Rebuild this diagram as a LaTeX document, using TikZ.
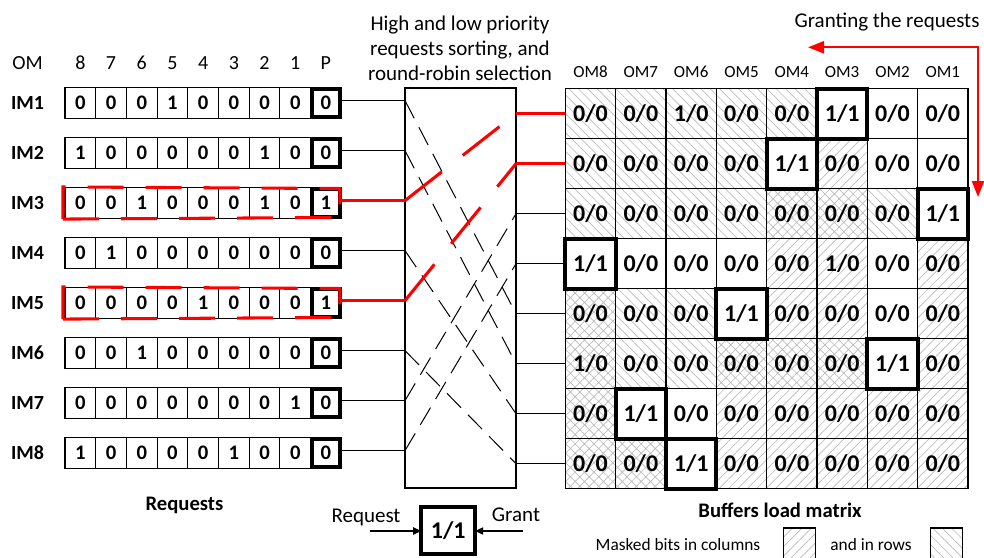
\documentclass[tikz,border=0pt]{standalone}
\usepackage{fontspec}
\setmainfont{Carlito}
\usetikzlibrary{arrows.meta,patterns.meta,calc}
\definecolor{hred}{RGB}{255,0,0}
\definecolor{hatchgray}{RGB}{185,185,185}
\tikzset{
  base/.style={inner sep=0pt, outer sep=0pt},
  imlab/.style={base, font=\fontsize{15}{17}\selectfont\bfseries},
  headtxt/.style={base, font=\fontsize{15}{18}\selectfont},
  omhead/.style={base, font=\fontsize{12.75}{15}\selectfont},
  reqcell/.style={base, draw, line width=0.8pt, minimum width=23.03pt, minimum height=22.9pt, font=\fontsize{15.5}{18}\selectfont\bfseries},
  pcell/.style={reqcell, line width=2.8pt, minimum width=21pt, minimum height=20.5pt},
  mcell/.style={base, draw, line width=0.9pt, minimum width=37.75pt, minimum height=37.5pt, font=\fontsize{18}{21}\selectfont\bfseries},
  hatchN/.style={pattern={Lines[angle=-45,distance=5pt,line width=0.5pt]}, pattern color=hatchgray},
  hatchE/.style={pattern={Lines[angle=45,distance=5pt,line width=0.5pt]}, pattern color=hatchgray},
  hatchX/.style={pattern={Hatch[angle=45,distance=5pt,line width=0.5pt]}, pattern color=hatchgray},
  hatchO/.style={},
  hatchG/.style={},
  grantbox/.style={draw, line width=3.2pt},
  conn/.style={draw, line width=0.8pt},
  redconn/.style={draw=hred, line width=2.3pt},
  bdash/.style={draw, line width=0.75pt, dash pattern=on 15pt off 7.5pt},
  rdash/.style={draw=hred, line width=2.3pt, dash pattern=on 35pt off 20pt},
  redbox/.style={draw=hred, line width=2.3pt, dash pattern=on 27pt off 16.5pt},
  bigtxt/.style={base, font=\fontsize{15.75}{18.75}\selectfont},
  boldlab/.style={base, font=\fontsize{15.5}{18}\selectfont\bfseries},
  legtxt/.style={base, font=\fontsize{13}{15}\selectfont},
  legbox/.style={base, draw, line width=0.8pt, minimum width=23.8pt, minimum height=24pt},
  gbox/.style={base, draw, line width=3pt, minimum width=40.5pt, minimum height=35pt, font=\fontsize{18}{21}\selectfont\bfseries},
  redarrow/.style={draw=hred, line width=1.6pt},
  smallarrow/.style={draw, line width=0.8pt, -{Triangle[length=6pt,width=5.5pt]}},
}
\newcommand{\reqrow}[3]{%
  \node[imlab] (im-#1) at (27.5,{103+50*(#1-1)}) {IM#1};
  \foreach \bb [count=\jj] in {#2}{\node[reqcell] (c-#1-\jj) at ({80.35+30.7*(\jj-1)},{103+50*(#1-1)}) {\bb};}
  \node[pcell] (p-#1) at (325.85,{103+50*(#1-1)}) {#3};
}
\newcommand{\mrow}[2]{%
  \foreach \na/\nb/\hh [count=\jj] in {#2}{\node[mcell,hatch\hh] (m-#1-\jj) at ({590.5+50.33*(\jj-1)},{113.7+50*(#1-1)}) {\na/\nb};}
}
\begin{document}
\begin{tikzpicture}[x=0.75pt,y=-0.75pt]
\useasboundingbox (0,0) rectangle (984,557);

% ---------- Requests ----------
\node[headtxt] (omlab) at (27.5,62.7) {OM};
\foreach \n [count=\jj] in {8,7,6,5,4,3,2,1}{\node[headtxt] (hn-\jj) at ({80.35+30.7*(\jj-1)},62.7) {\n};}
\node[headtxt] (hp) at (325.85,62.7) {P};

\reqrow{1}{0,0,0,1,0,0,0,0}{0}
\reqrow{2}{1,0,0,0,0,0,1,0}{0}
\reqrow{3}{0,0,1,0,0,0,1,0}{1}
\reqrow{4}{0,1,0,0,0,0,0,0}{0}
\reqrow{5}{0,0,0,0,1,0,0,0}{1}
\reqrow{6}{0,0,1,0,0,0,0,0}{0}
\reqrow{7}{0,0,0,0,0,0,0,1}{0}
\reqrow{8}{1,0,0,0,0,1,0,0}{0}

\node[boldlab] (reqtitle) at (184.5,505) {Requests};

% red dashed frames round IM3 and IM5
\foreach \r in {3,5}{
  \draw[redbox] ([xshift=-1.5pt,yshift=-0.6pt]c-\r-1.south west) -- ([yshift=-0.6pt]p-\r.south east) -- ([yshift=0.6pt]p-\r.north east) -- ([xshift=-1.5pt,yshift=0.6pt]c-\r-1.north west) -- cycle;
}

% ---------- Crossbar ----------
\node[bigtxt, align=center] (title) at (460,48) {High and low priority\\requests sorting, and\\round-robin selection};
\node[base, draw, line width=0.8pt, minimum width=83.25pt, minimum height=300pt] (xbar) at (460.5,288) {};

% ---------- Matrix ----------
\foreach \jj [evaluate=\jj as \nn using int(9-\jj)] in {1,...,8}{\node[omhead] (omh-\jj) at ({590.5+50.33*(\jj-1)},71.7) {OM\nn};}

\mrow{1}{0/0/N,0/0/N,1/0/N,0/0/N,0/0/N,1/1/G,0/0/O,0/0/O}
\mrow{2}{0/0/N,0/0/N,0/0/N,0/0/N,1/1/G,0/0/E,0/0/O,0/0/O}
\mrow{3}{0/0/N,0/0/N,0/0/N,0/0/N,0/0/X,0/0/X,0/0/N,1/1/G}
\mrow{4}{1/1/G,0/0/O,0/0/O,0/0/O,0/0/E,1/0/E,0/0/O,0/0/E}
\mrow{5}{0/0/X,0/0/N,0/0/N,1/1/G,0/0/E,0/0/E,0/0/O,0/0/E}
\mrow{6}{1/0/X,0/0/N,0/0/N,0/0/X,0/0/X,0/0/X,1/1/G,0/0/E}
\mrow{7}{0/0/X,1/1/G,0/0/O,0/0/E,0/0/E,0/0/E,0/0/E,0/0/E}
\mrow{8}{0/0/X,0/0/X,1/1/G,0/0/E,0/0/E,0/0/E,0/0/E,0/0/E}

\foreach \r/\c in {1/6,2/5,3/8,4/1,5/4,6/7,7/2,8/3}{
  \draw[grantbox] (m-\r-\c.north west) rectangle (m-\r-\c.south east);
}

\node[boldlab] (buftitle) at (780,510) {Buffers load matrix};

% ---------- connectors ----------
\foreach \i in {1,...,8}{\coordinate (xl-\i) at ([yshift=1.8pt]p-\i.east -| xbar.west);}
\foreach \k in {1,...,8}{\coordinate (xr-\k) at (m-\k-1.west -| xbar.east);}

\foreach \i in {1,2,4,6,7,8}{\draw[conn] ([yshift=1.8pt]p-\i.east) -- (xl-\i);}
\foreach \i in {3,5}{\draw[redconn] ([yshift=1.8pt]p-\i.east) -- (xl-\i);}
\foreach \k in {3,...,8}{\draw[conn] (xr-\k) -- (m-\k-1.west);}
\foreach \k in {1,2}{\draw[redconn] (xr-\k) -- (m-\k-1.west);}

\foreach \i/\k in {1/5,2/6,4/7,6/8,7/3,8/4}{\draw[bdash] (xl-\i) -- (xr-\k);}
\draw[rdash] (xl-3) -- (xr-1);
\draw[rdash] (xl-5) -- (xr-2);

% ---------- Granting arrow ----------
\node[bigtxt] (granttxt) at (887,22) {Granting the requests};
\coordinate (ga) at (808,47.3);
\coordinate (gc) at (978,47.3);
\coordinate (gb) at (978,197);
\draw[redarrow, {Triangle[length=12pt,width=9pt]}-{Triangle[length=12pt,width=9pt]}] (ga) -- (gc) -- (gb);

% ---------- legend ----------
\node[gbox] (g) at (448.2,530.5) {1/1};
\node[bigtxt] (reqtxt) at (366,517) {Request};
\node[bigtxt] (grtxt) at (516,515) {Grant};
\coordinate (reqin) at (370,531);
\coordinate (grin) at (523,531);
\draw[smallarrow] (reqin) -- (reqin -| g.west);
\draw[smallarrow] (grin) -- (grin -| g.east);

\node[legtxt] (mbtxt) at (678,545) {Masked bits in columns};
\node[legbox, hatchE] (leg1) at (799.2,544) {};
\node[legtxt] (rowtxt) at (871,545) {and in rows};
\node[legbox, hatchN] (leg2) at (946.2,544) {};
\end{tikzpicture}
\end{document}
